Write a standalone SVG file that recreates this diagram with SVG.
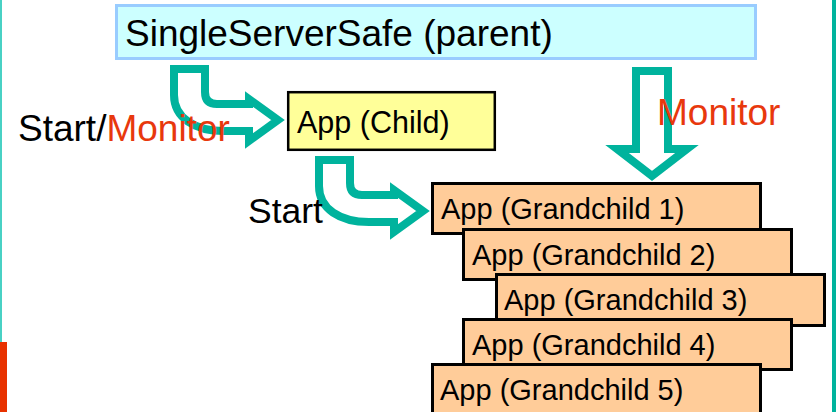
<svg xmlns="http://www.w3.org/2000/svg" width="838" height="412" viewBox="0 0 838 412">
<style>
text{font-family:"Liberation Sans",Arial,sans-serif;fill:#000}
.gc rect{fill:#FFCC99;stroke:#000;stroke-width:3}
.gc text{font-size:29px}
.arrow{fill:#fff;stroke:#00B39D;stroke-width:8;stroke-linejoin:miter}
.red{fill:#E8380D}
</style>
<rect x="0" y="0" width="838" height="412" fill="#fff"/>
<rect x="0" y="0" width="2" height="342" fill="#48D1C4"/>
<rect x="0" y="342" width="7" height="70" fill="#E83200"/>
<rect x="832" y="0" width="4" height="412" fill="#00B39D"/>

<g id="connectors">
<path class="arrow" d="M174 69 L205 69 L205 92 Q205 104 217 104 L249 104 L249 99 L278 120 L249 141 L249 131 L224 131 C195 131 174 118 174 95 Z"/>
<path class="arrow" transform="translate(145 91)" d="M174 69 L205 69 L205 92 Q205 104 217 104 L249 104 L249 99 L278 120 L249 141 L249 131 L224 131 C195 131 174 118 174 95 Z"/>
<path class="arrow" d="M636 71 L668 71 L668 149 L687 149 L652 176 L617 149 L636 149 Z"/>
</g>

<g id="parent">
<rect x="116.5" y="5.5" width="639" height="53" fill="#CCFFFF" stroke="#99CCFF" stroke-width="3"/>
<text x="125" y="46" font-size="37">SingleServerSafe (parent)</text>
</g>

<g id="child">
<rect x="288.2" y="92.2" width="206.6" height="57.6" fill="#FFFF99" stroke="#000" stroke-width="2.5"/>
<text x="297" y="133" font-size="30.5">App (Child)</text>
</g>

<g id="grandchild1" class="gc">
<rect x="432.5" y="183.5" width="328" height="50"/>
<text x="441" y="219">App (Grandchild 1)</text>
</g>
<g id="grandchild2" class="gc">
<rect x="463.5" y="229.5" width="328" height="50"/>
<text x="472" y="265">App (Grandchild 2)</text>
</g>
<g id="grandchild3" class="gc">
<rect x="496.5" y="274.5" width="328" height="51"/>
<text x="504" y="310">App (Grandchild 3)</text>
</g>
<g id="grandchild4" class="gc">
<rect x="463.5" y="319.5" width="328" height="50"/>
<text x="472" y="355">App (Grandchild 4)</text>
</g>
<g id="grandchild5" class="gc">
<rect x="432.5" y="364.5" width="328" height="60"/>
<text x="440" y="400">App (Grandchild 5)</text>
</g>

<g id="labels">
<text x="18" y="141" font-size="37">Start/<tspan class="red">Monitor</tspan></text>
<text x="248" y="223" font-size="35.5">Start</text>
<text x="657" y="125" font-size="37" class="red">Monitor</text>
</g>
</svg>
